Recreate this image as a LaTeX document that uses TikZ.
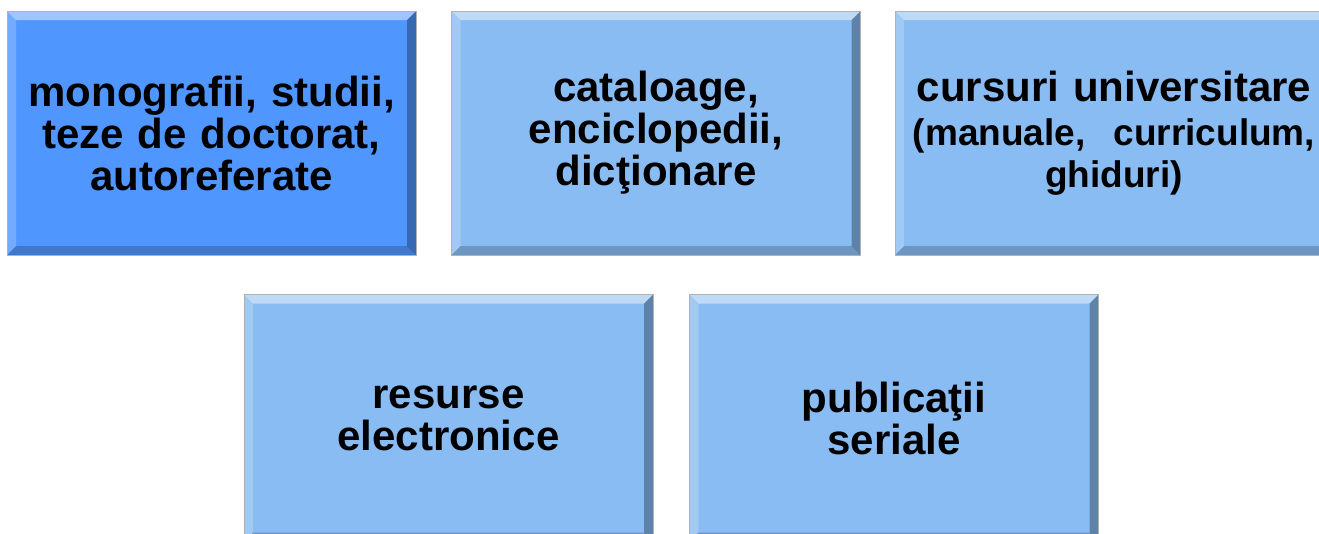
\documentclass[tikz,border=0pt]{standalone}
\usepackage{fontspec}
\setmainfont{Liberation Sans}
\usepackage{tikz}
\usetikzlibrary{calc}
\definecolor{tileDark}{HTML}{4F97FF}
\definecolor{tileLight}{HTML}{89BCF2}
\def\bev{9pt}
\tikzset{
	tile/.style={rectangle, inner sep=0pt, draw=black!30, line width=0.8pt,
		font=\bfseries\fontsize{42}{42}\selectfont, align=center, text width=400pt,
		path picture={
			\fill[white, opacity=0.45] (path picture bounding box.north west) -- (path picture bounding box.north east)
				-- ($(path picture bounding box.north east)+(-\bev,-\bev)$) -- ($(path picture bounding box.north west)+(\bev,-\bev)$) -- cycle;
			\fill[white, opacity=0.2] (path picture bounding box.north west) -- ($(path picture bounding box.north west)+(\bev,-\bev)$)
				-- ($(path picture bounding box.south west)+(\bev,\bev)$) -- (path picture bounding box.south west) -- cycle;
			\fill[black, opacity=0.3] (path picture bounding box.north east) -- ($(path picture bounding box.north east)+(-\bev,-\bev)$)
				-- ($(path picture bounding box.south east)+(-\bev,\bev)$) -- (path picture bounding box.south east) -- cycle;
			\fill[black, opacity=0.2] (path picture bounding box.south west) -- ($(path picture bounding box.south west)+(\bev,\bev)$)
				-- ($(path picture bounding box.south east)+(-\bev,\bev)$) -- (path picture bounding box.south east) -- cycle;
		}},
	tileA/.style={tile, fill=tileDark, minimum width=409pt, minimum height=244pt},
	tileB/.style={tile, fill=tileLight, minimum width=409pt, minimum height=244pt},
	tileC/.style={tile, fill=tileLight, minimum width=409pt, minimum height=247pt},
}

\begin{document}
\begin{tikzpicture}[x=1pt, y=-1pt]
		%%%%% START %%%%%
		\useasboundingbox (0, 0) rectangle (1319, 533);
		\clip (0, 0) rectangle (1319, 533);
		
		% top row
		\node[tileA] (mono) at (211.5, 133) {monografii, studii,\\ teze de doctorat,\\ autoreferate};
		\node[tileB] (cata) at (656, 133) {cataloage,\\ enciclopedii,\\ dic\c{t}ionare};
		\node[tileB, minimum width=438pt, text width=430pt] (curs) at (1114, 133)
			{cursuri universitare\par\vskip 11pt
			\fontsize{37}{33}\selectfont (manuale,\ \ curriculum,\\ ghiduri)};
		
		% bottom row
		\node[tileC] (resu) at (448.5, 418) {resurse\\ electronice};
		\node[tileC] (publ) at (894, 418) {publica\c{t}ii\\ seriale};
		
		%%%%% END %%%%%
	\end{tikzpicture}
\end{document}
